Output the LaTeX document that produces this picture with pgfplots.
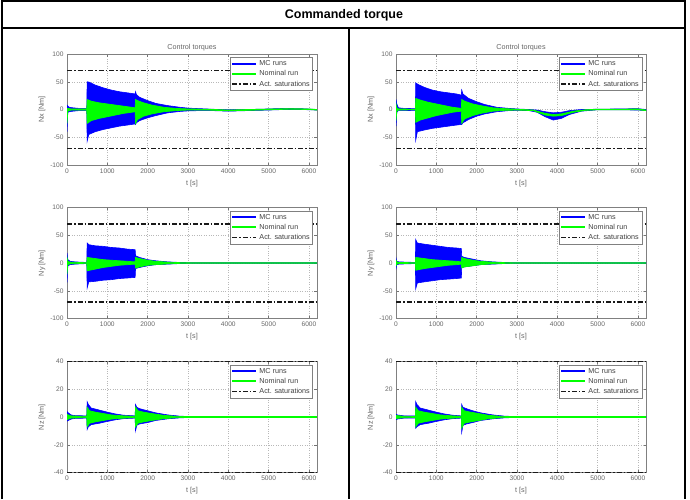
\documentclass[border=0pt]{standalone}
\usepackage{fontspec}
\setmainfont{Liberation Sans}
\usepackage{pgfplots}
\pgfplotsset{compat=1.18}

\definecolor{mblue}{RGB}{0,0,255}
\definecolor{mgreen}{RGB}{0,255,0}

\pgfplotsset{
  tq/.style={
    scale only axis, width=250pt, height=111pt, anchor=south west,
    xmin=0, xmax=6200, xtick={0,1000,2000,3000,4000,5000,6000},
    scaled ticks=false,
    /pgf/number format/set thousands separator={},
    /pgf/number format/assume math mode=true,
    grid=major, major grid style={black!28, line width=0.4pt, dash pattern=on 0.8pt off 1.6pt},
    tick align=inside, major tick length=2.5pt,
    tick style={black!55, line width=0.4pt},
    axis line style={black!50, line width=0.6pt},
    ticklabel style={font=\fontsize{6.6}{7}\selectfont, text=black!60},
    xlabel={t [s]},
    label style={font=\fontsize{7.2}{8}\selectfont, text=black!60},
    xlabel style={at={(axis description cs:0.5,-0.165)}, anchor=center},
    ylabel style={at={(axis description cs:-0.1,0.5)}, anchor=center},
    title style={font=\fontsize{7.2}{8}\selectfont, text=black!60, at={(axis description cs:0.5,1)}, anchor=south, yshift=-6.5pt},
    legend style={at={(axis description cs:0.984,0.97)}, anchor=north east, font=\fontsize{7.2}{8.5}\selectfont, text=black!75, draw=black!50, line width=0.5pt, inner sep=1pt, cells={anchor=west}, row sep=-0.5pt},
    legend image code/.code={\draw[##1] (0pt,0pt) -- (24pt,0pt);},
  },
  big/.style={ymin=-100, ymax=100, ytick={-100,-50,0,50,100}},
  small/.style={ymin=-40, ymax=40, ytick={-40,-20,0,20,40}},
  bl/.style={draw=mblue, fill=mblue, line width=0.6pt, forget plot},
  gr/.style={draw=mgreen, fill=mgreen, line width=0.7pt, forget plot},
  sat/.style={black!90, line width=1.4pt, dash pattern=on 5pt off 2pt on 1.5pt off 2pt},
}

\begin{document}
\begin{tikzpicture}
\path[fill=white] (0,0) rectangle (690pt,-499pt);

% ---------- Top left: Nx ----------
\begin{axis}[tq, big, at={(67pt,-165pt)}, title={Control torques}, ylabel={Nx [Nm]}]
% MC runs envelope: upper edge left to right, lower edge right to left
\addplot[bl] coordinates {(0,8) (20,6) (60,4) (150,3) (300,2) (490,2) (500,50) (560,49) (700,44) (900,39) (1100,35) (1300,32) (1500,30) (1690,28) (1700,32) (1720,27) (1800,22) (2000,16) (2200,11) (2500,7) (2800,4) (3000,2.5) (3300,1.5) (3600,0.5) (4000,-0.5) (4500,0) (5000,1) (5400,2) (5800,1.5) (6200,0)
 (6200,-1) (5800,0) (5400,0) (5000,-1) (4500,-2) (4000,-3) (3600,-2) (3300,-2) (3000,-2.5) (2800,-3.5) (2500,-6) (2200,-11) (2000,-15) (1800,-20) (1720,-24) (1700,-27) (1690,-26) (1500,-28) (1300,-30) (1100,-33) (900,-36) (700,-40) (540,-45) (500,-57) (490,-2) (300,-2) (150,-3) (60,-4) (20,-5) (0,-40)} -- cycle;
% Nominal run envelope
\addplot[gr] coordinates {(0,2) (20,2) (100,1) (490,1) (500,18) (600,15) (800,12) (1000,10) (1200,8) (1400,6) (1600,4) (1690,3) (1700,18) (1750,16) (1900,12) (2100,8) (2400,4) (2700,2) (3000,1) (3500,0.5) (4000,-1) (4500,0) (5000,0.8) (5500,1.5) (6000,1) (6200,0)
 (6200,-1) (6000,0) (5500,0.5) (5000,-0.5) (4500,-1.5) (4000,-2.5) (3500,-1) (3000,-1) (2700,-2) (2400,-4) (2100,-8) (1900,-12) (1750,-18) (1700,-25) (1690,-4) (1600,-5) (1400,-7) (1200,-10) (1000,-13) (800,-16) (600,-20) (500,-25) (490,-1) (100,-1) (20,-3) (0,-25)} -- cycle;
\addplot[sat, forget plot] coordinates {(0,70) (6200,70)};
\addplot[sat, forget plot] coordinates {(0,-70) (6200,-70)};
\addlegendimage{mblue, line width=2pt}\addlegendentry{MC runs}
\addlegendimage{mgreen, line width=2pt}\addlegendentry{Nominal run}
\addlegendimage{sat}\addlegendentry{Act. saturations}
\end{axis}

% ---------- Top right: Nx ----------
\begin{axis}[tq, big, at={(396pt,-165pt)}, title={Control torques}, ylabel={Nx [Nm]}]
\addplot[bl] coordinates {(0,18) (20,10) (60,3) (200,2) (480,1.5) (490,48) (550,45) (700,40) (900,35) (1100,32) (1300,30) (1500,28) (1620,26) (1630,35) (1660,28) (1800,20) (2000,14) (2200,9) (2500,4) (2800,2) (3000,1) (3300,0) (3500,-1) (3700,-4) (3900,-6) (4100,-5) (4300,-2) (4600,0) (5000,0.5) (5500,1) (6000,1.5) (6200,0)
 (6200,-2) (6000,-1) (5500,-0.5) (5000,-0.5) (4600,-3) (4300,-9) (4100,-16) (3900,-19) (3700,-13) (3500,-5) (3300,-2) (3000,-1.5) (2800,-2) (2500,-4) (2200,-8) (2000,-12) (1800,-18) (1660,-24) (1630,-27) (1620,-27) (1500,-28) (1300,-30) (1100,-32) (900,-34) (700,-37) (530,-40) (490,-55) (480,-1.5) (200,-2) (60,-2) (20,-5) (0,-30)} -- cycle;
\addplot[gr] coordinates {(0,10) (20,3) (60,1) (480,0.5) (490,20) (600,17) (800,13) (1000,10) (1200,7) (1400,4) (1620,2) (1630,18) (1700,15) (1900,10) (2100,7) (2400,3) (2700,1.5) (3000,0.5) (3400,-1) (3700,-7) (3900,-9) (4100,-8) (4400,-3) (4700,-0.5) (5000,0.5) (5500,0.5) (6000,1) (6200,-1)
 (6200,-2) (6000,-0.5) (5500,-0.5) (5000,-0.5) (4700,-1.5) (4400,-5) (4100,-11) (3900,-12) (3700,-10) (3400,-2) (3000,-1) (2700,-1.5) (2400,-3) (2100,-7) (1900,-11) (1700,-17) (1630,-25) (1620,-3) (1400,-5) (1200,-8) (1000,-11) (800,-15) (600,-19) (490,-23) (480,-0.5) (60,-1) (20,-3) (0,-20)} -- cycle;
\addplot[sat, forget plot] coordinates {(0,70) (6200,70)};
\addplot[sat, forget plot] coordinates {(0,-70) (6200,-70)};
\addlegendimage{mblue, line width=2pt}\addlegendentry{MC runs}
\addlegendimage{mgreen, line width=2pt}\addlegendentry{Nominal run}
\addlegendimage{sat}\addlegendentry{Act. saturations}
\end{axis}

% ---------- Middle left: Ny ----------
\begin{axis}[tq, big, at={(67pt,-318.5pt)}, ylabel={Ny [Nm]}]
\addplot[bl] coordinates {(0,18) (20,6) (80,3) (200,2) (490,1) (500,36) (540,33) (700,31) (900,30) (1100,28) (1300,27) (1500,25) (1690,24) (1700,13) (1800,10) (2000,6) (2200,4) (2500,2) (2800,1) (3200,0.5) (6200,0.5)
 (6200,-0.5) (3200,-0.5) (2800,-1) (2500,-2) (2200,-3) (2000,-5) (1800,-8) (1700,-10) (1690,-26) (1500,-27) (1300,-28) (1100,-30) (900,-31) (700,-33) (540,-34) (500,-45) (490,-1) (200,-2) (80,-3) (20,-5) (0,-35)} -- cycle;
\addplot[gr] coordinates {(0,10) (20,3) (80,1.5) (490,0.5) (500,10) (700,8) (900,6) (1100,5) (1300,4) (1500,3) (1690,2) (1700,10) (1800,8) (2000,5) (2200,3) (2500,1.5) (2800,0.7) (3200,0.3) (6200,0.3)
 (6200,-0.3) (3200,-0.3) (2800,-0.7) (2500,-1.5) (2200,-3) (2000,-4) (1800,-7) (1700,-9) (1690,-2) (1500,-3) (1300,-4) (1100,-6) (900,-8) (700,-11) (500,-14) (490,-0.5) (80,-1.5) (20,-3) (0,-20)} -- cycle;
\addplot[sat, forget plot] coordinates {(0,70) (6200,70)};
\addplot[sat, forget plot] coordinates {(0,-70) (6200,-70)};
\addlegendimage{mblue, line width=2pt}\addlegendentry{MC runs}
\addlegendimage{mgreen, line width=2pt}\addlegendentry{Nominal run}
\addlegendimage{sat}\addlegendentry{Act. saturations}
\end{axis}

% ---------- Middle right: Ny ----------
\begin{axis}[tq, big, at={(396pt,-318.5pt)}, ylabel={Ny [Nm]}]
\addplot[bl] coordinates {(0,9) (20,3) (80,2) (480,1) (490,42) (530,36) (700,34) (900,32) (1100,30) (1300,28) (1500,27) (1620,26) (1630,12) (1700,10) (1900,7) (2100,4) (2400,2) (2700,1) (3000,0.5) (6200,0.5)
 (6200,-0.5) (3000,-0.5) (2700,-1) (2400,-2) (2100,-3) (1900,-5) (1700,-7) (1630,-8) (1620,-27) (1500,-28) (1300,-29) (1100,-30) (900,-32) (700,-34) (530,-36) (490,-46) (480,-1) (80,-2) (20,-3) (0,-10)} -- cycle;
\addplot[gr] coordinates {(0,5) (20,2) (80,1) (480,0.5) (490,10) (700,8) (900,6) (1100,5) (1300,4) (1500,3) (1620,2) (1630,10) (1700,8) (1900,5) (2100,3) (2400,1.5) (2700,0.7) (3000,0.3) (6200,0.3)
 (6200,-0.3) (3000,-0.3) (2700,-0.7) (2400,-1.5) (2100,-3) (1900,-5) (1700,-7) (1630,-9) (1620,-2) (1500,-3) (1300,-4) (1100,-6) (900,-8) (700,-10) (490,-13) (480,-0.5) (80,-1) (20,-2) (0,-5)} -- cycle;
\addplot[sat, forget plot] coordinates {(0,70) (6200,70)};
\addplot[sat, forget plot] coordinates {(0,-70) (6200,-70)};
\addlegendimage{mblue, line width=2pt}\addlegendentry{MC runs}
\addlegendimage{mgreen, line width=2pt}\addlegendentry{Nominal run}
\addlegendimage{sat}\addlegendentry{Act. saturations}
\end{axis}

% ---------- Bottom left: Nz ----------
\begin{axis}[tq, small, at={(67pt,-472.5pt)}, ylabel={Nz [Nm]}]
\addplot[bl] coordinates {(0,4) (30,3) (100,1.5) (200,1) (490,0.8) (500,11) (530,9) (600,6.5) (800,5) (1000,3.5) (1200,2.2) (1400,1.3) (1690,0.8) (1700,9) (1730,7) (1800,6) (2000,4.5) (2200,3) (2500,1.5) (2800,0.6) (3000,0.4) (6200,0.4)
 (6200,-0.4) (3000,-0.4) (2800,-0.6) (2500,-1.3) (2200,-2.5) (2000,-4) (1800,-5) (1730,-6) (1700,-10) (1690,-0.8) (1400,-1.2) (1200,-2) (1000,-3.2) (800,-4.5) (600,-5.5) (530,-7) (500,-9) (490,-0.8) (200,-1) (100,-1.5) (30,-2.5) (0,-3)} -- cycle;
\addplot[gr] coordinates {(0,2) (30,1.5) (100,0.8) (490,0.4) (500,7) (560,4.5) (700,3.5) (900,2.5) (1100,1.5) (1400,0.8) (1690,0.5) (1700,7) (1760,4.5) (1900,3.5) (2100,2.5) (2400,1.2) (2700,0.5) (3000,0.3) (6200,0.3)
 (6200,-0.3) (3000,-0.3) (2700,-0.5) (2400,-1.2) (2100,-2.5) (1900,-3.5) (1760,-4.5) (1700,-7) (1690,-0.5) (1400,-0.8) (1100,-1.5) (900,-2.5) (700,-3.5) (560,-4.5) (500,-7) (490,-0.4) (100,-0.8) (30,-1.5) (0,-2)} -- cycle;
\addplot[sat, forget plot] coordinates {(0,40) (6200,40)};
\addplot[sat, forget plot] coordinates {(0,-40) (6200,-40)};
\addlegendimage{mblue, line width=2pt}\addlegendentry{MC runs}
\addlegendimage{mgreen, line width=2pt}\addlegendentry{Nominal run}
\addlegendimage{sat}\addlegendentry{Act. saturations}
\end{axis}

% ---------- Bottom right: Nz ----------
\begin{axis}[tq, small, at={(396pt,-472.5pt)}, ylabel={Nz [Nm]}]
\addplot[bl] coordinates {(0,2) (30,1.5) (200,0.8) (480,0.8) (490,11) (520,9) (600,6.5) (800,5) (1000,3.5) (1200,2.2) (1400,1.3) (1620,0.8) (1630,9) (1660,7) (1750,6) (1900,4.5) (2100,3) (2400,1.5) (2700,0.6) (2900,0.4) (6200,0.4)
 (6200,-0.4) (2900,-0.4) (2700,-0.6) (2400,-1.3) (2100,-2.5) (1900,-4) (1750,-5) (1660,-6) (1630,-11) (1620,-0.8) (1400,-1.2) (1200,-2) (1000,-3.2) (800,-4.5) (600,-5.5) (520,-7) (490,-8) (480,-0.8) (200,-0.8) (30,-1.5) (0,-2)} -- cycle;
\addplot[gr] coordinates {(0,1.2) (30,1) (200,0.5) (480,0.4) (490,7) (550,4.5) (700,3.5) (900,2.5) (1100,1.5) (1400,0.8) (1620,0.5) (1630,7) (1690,4.5) (1850,3.5) (2050,2.5) (2300,1.2) (2600,0.5) (2900,0.3) (6200,0.3)
 (6200,-0.3) (2900,-0.3) (2600,-0.5) (2300,-1.2) (2050,-2.5) (1850,-3.5) (1690,-4.5) (1630,-8) (1620,-0.5) (1400,-0.8) (1100,-1.5) (900,-2.5) (700,-3.5) (550,-4.5) (490,-7) (480,-0.4) (200,-0.5) (30,-1) (0,-1.2)} -- cycle;
\addplot[sat, forget plot] coordinates {(0,40) (6200,40)};
\addplot[sat, forget plot] coordinates {(0,-40) (6200,-40)};
\addlegendimage{mblue, line width=2pt}\addlegendentry{MC runs}
\addlegendimage{mgreen, line width=2pt}\addlegendentry{Nominal run}
\addlegendimage{sat}\addlegendentry{Act. saturations}
\end{axis}

% ---------- table frame ----------
\draw[line width=2pt] (1.5pt,-499pt) -- (1.5pt,-1pt) -- (685pt,-1pt) -- (685pt,-499pt);
\draw[line width=2pt] (1.5pt,-28pt) -- (685pt,-28pt);
\draw[line width=2pt] (348.5pt,-28pt) -- (348.5pt,-499pt);
\node[font=\fontsize{12.5}{14}\selectfont\bfseries] at (344pt,-15pt) {Commanded torque};
\end{tikzpicture}
\end{document}
